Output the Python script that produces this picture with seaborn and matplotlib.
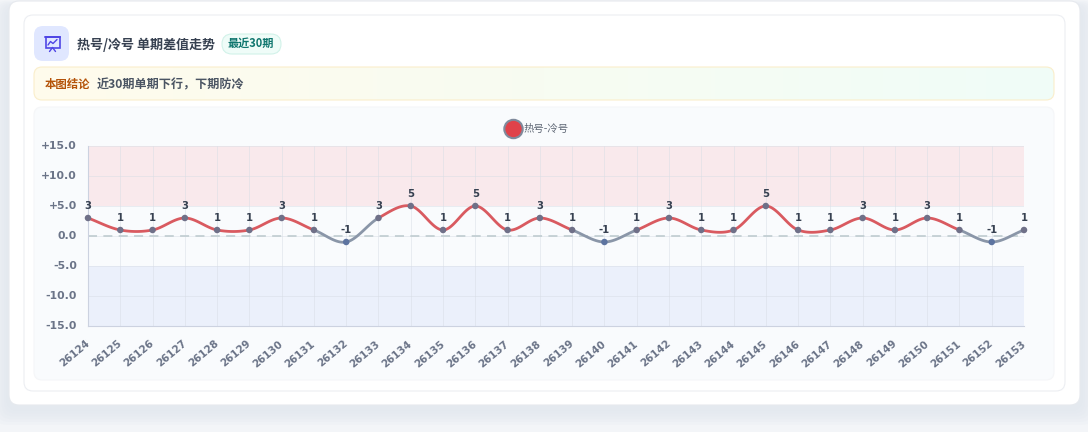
import numpy as np
import pandas as pd
import matplotlib
matplotlib.use('Agg')
import matplotlib.pyplot as plt
from matplotlib.patches import FancyBboxPatch, Rectangle, Circle
from matplotlib.transforms import ScaledTranslation
import seaborn as sns

sns.set_theme(style='white')
plt.rcParams['font.family'] = ['DejaVu Sans', 'Noto Sans CJK SC']
plt.rcParams['axes.unicode_minus'] = False

# data
issues = [26124, 26125, 26126, 26127, 26128, 26129, 26130, 26131, 26132, 26133,
          26134, 26135, 26136, 26137, 26138, 26139, 26140, 26141, 26142, 26143,
          26144, 26145, 26146, 26147, 26148, 26149, 26150, 26151, 26152, 26153]
diffs = [3, 1, 1, 3, 1, 1, 3, 1, -1, 3,
         5, 1, 5, 1, 3, 1, -1, 1, 3, 1,
         1, 5, 1, 1, 3, 1, 3, 1, -1, 1]
y_ticks = [15, 10, 5, 0, -5, -10, -15]

W, H = 1088, 432
RED = '#d95a60'
GREY = '#8a96a8'
CJK = ['Noto Sans CJK SC', 'DejaVu Sans']

df = pd.DataFrame({'pos': range(len(issues)), 'issue': issues, 'diff': diffs})

fig = plt.figure(figsize=(W / 100, H / 100), dpi=100, facecolor='#f3f5f8')

# page cards, drawn in pixel coordinates
bg = fig.add_axes([0, 0, 1, 1])
bg.set_xlim(0, W)
bg.set_ylim(H, 0)
bg.axis('off')


def card(x, y, w, h, r, fc, ec='none', lw=0.8, z=1, alpha=None):
    p = FancyBboxPatch((x + r, y + r), w - 2 * r, h - 2 * r,
                       boxstyle=f'round,pad={r},rounding_size={r}',
                       fc=fc, ec=ec, lw=lw, zorder=z, alpha=alpha)
    bg.add_patch(p)


# soft shadow under the outer card
for grow in range(24, 0, -4):
    card(9 - grow * 0.6, 8 - grow * 0.3, 1071 + grow * 1.2, 400 + grow,
         12, '#dfe5ec', alpha=0.16, z=0.5)

card(9, 1, 1071, 404, 10, 'white', '#e6e9ee')
card(24, 15, 1041, 376, 9, 'white', '#eceef2')
card(34, 26, 35, 35, 9, '#e0e7ff')
card(222, 34, 59, 20, 10, '#effcf8', '#d2f2e9')

# conclusion banner with soft gradient
grad = np.linspace(0, 1, 256).reshape(1, -1, 1)
c1, c2 = np.array([255, 251, 236]), np.array([240, 253, 248])
img = (c1 + (c2 - c1) * grad) / 255
banner = bg.imshow(img, extent=(34, 1054, 100, 67), aspect='auto', zorder=2)
card(34, 67, 1020, 33, 8, 'none', '#faeecb', z=3)
clip = FancyBboxPatch((42, 75), 1004, 17, boxstyle='round,pad=8,rounding_size=8',
                      transform=bg.transData)
banner.set_clip_path(clip)
bg.set_xlim(0, W)
bg.set_ylim(H, 0)

card(34, 107, 1020, 273, 8, '#f9fbfd', '#f5f6f8')

# little chart icon
bg.add_patch(Rectangle((45.5, 37), 14, 10.5, fc='none', ec='#4f46e5', lw=1.2, zorder=3))
bg.plot([45, 60], [37, 37], color='#4f46e5', lw=1.4, zorder=3)
bg.plot([48, 50.5, 53, 57], [45, 41.5, 43.5, 39.5], color='#4f46e5', lw=1.0, zorder=3)
bg.plot([52.5, 49.5], [47.5, 51.5], color='#4f46e5', lw=1.0, zorder=3)
bg.plot([52.5, 55.5], [47.5, 51.5], color='#4f46e5', lw=1.0, zorder=3)

bg.text(77, 44.5, '热号/冷号 单期差值走势', fontsize=9.4, fontweight='bold',
        color='#374151', va='center', ha='left', family=CJK)
bg.text(251, 43.5, '最近30期', fontsize=8, fontweight='bold', color='#0f766e',
        va='center', ha='center', family=CJK)
bg.text(45, 84, '本图结论', fontsize=8.2, fontweight='bold', color='#b45309',
        va='center', ha='left', zorder=4, family=CJK)
bg.text(97, 84.5, '近30期单期下行，下期防冷', fontsize=8.7, fontweight='bold',
        color='#4b5563', va='center', ha='left', zorder=4, family=CJK)

# legend
bg.add_patch(Circle((513.5, 129), 9.2, fc='#e0424a', ec='#7f8a9c', lw=1.5, zorder=4))
bg.text(524, 128.5, '热号-冷号', fontsize=7.5, color='#5f6775', va='center', ha='left',
        zorder=4, family=CJK)

# chart area
x0, x1, y0, y1 = 88, 1024, 146, 326
ax = fig.add_axes([x0 / W, 1 - y1 / H, (x1 - x0) / W, (y1 - y0) / H])
ax.patch.set_alpha(0)
ax.set_xlim(0, len(issues) - 1)
ax.set_ylim(-15, 15)
ax.axhspan(5, 15, color='#f9e9ec', lw=0, zorder=0)
ax.axhspan(-15, -5, color='#ebf0fb', lw=0, zorder=0)

ax.set_xticks(df['pos'])
ax.set_xticklabels(df['issue'], rotation=40, ha='right', rotation_mode='anchor',
                   fontsize=7.4, fontweight='bold', color='#6b7488')
ax.set_yticks(y_ticks)
ax.set_yticklabels([f'{v:+.1f}' if v else '0.0' for v in y_ticks],
                   fontsize=7.8, fontweight='bold', color='#6b7488')
ax.tick_params(axis='y', length=0, pad=8)
ax.tick_params(axis='x', length=9, width=0.6, color='#edf0f4', pad=0)

# nudge the tick labels to where they sit in the reference
for lab in ax.get_xticklabels():
    lab.set_transform(lab.get_transform() + ScaledTranslation(-3 / 100, 0, fig.dpi_scale_trans))
for lab in ax.get_yticklabels():
    lab.set_transform(lab.get_transform() + ScaledTranslation(0, 1 / 100, fig.dpi_scale_trans))

ax.grid(True, color='#d9dee6', lw=0.6, alpha=0.6)
ax.set_axisbelow(True)
sns.despine(ax=ax, top=True, right=True)
for side in ('left', 'bottom'):
    ax.spines[side].set_color('#ccd2e0')
    ax.spines[side].set_linewidth(0.8)

ax.axhline(0, color='#c3cfd3', lw=1.3, ls=(0, (5, 3.5)), zorder=2)

# smooth curve between the points, one colour per segment
vals = df['diff'].to_numpy(float)
tang = np.gradient(vals)
for i in range(len(vals) - 1):
    t = np.linspace(0, 1, 30)
    h00 = 2 * t**3 - 3 * t**2 + 1
    h10 = t**3 - 2 * t**2 + t
    h01 = -2 * t**3 + 3 * t**2
    h11 = t**3 - t**2
    yy = h00 * vals[i] + h10 * tang[i] + h01 * vals[i + 1] + h11 * tang[i + 1]
    col = GREY if min(vals[i], vals[i + 1]) < 0 else RED
    sns.lineplot(x=i + t, y=yy, color=col, lw=2.0, ax=ax, zorder=3,
                 errorbar=None, estimator=None, sort=False, solid_capstyle='round')

pt_cols = ['#5d74a0' if v < 0 else '#6f7088' for v in diffs]
sns.scatterplot(data=df, x='pos', y='diff', s=22, c=pt_cols, edgecolor='none',
                ax=ax, zorder=4, clip_on=False, legend=False)
ax.set_xlabel('')
ax.set_ylabel('')

for _, r in df.iterrows():
    ax.annotate(f"{r['diff']:d}", (r['pos'], r['diff']), xytext=(0, 5.2),
                textcoords='offset points', ha='center', va='bottom',
                fontsize=7.2, fontweight='bold', color='#374151', annotation_clip=False)

fig.savefig('out.png', dpi=100)
